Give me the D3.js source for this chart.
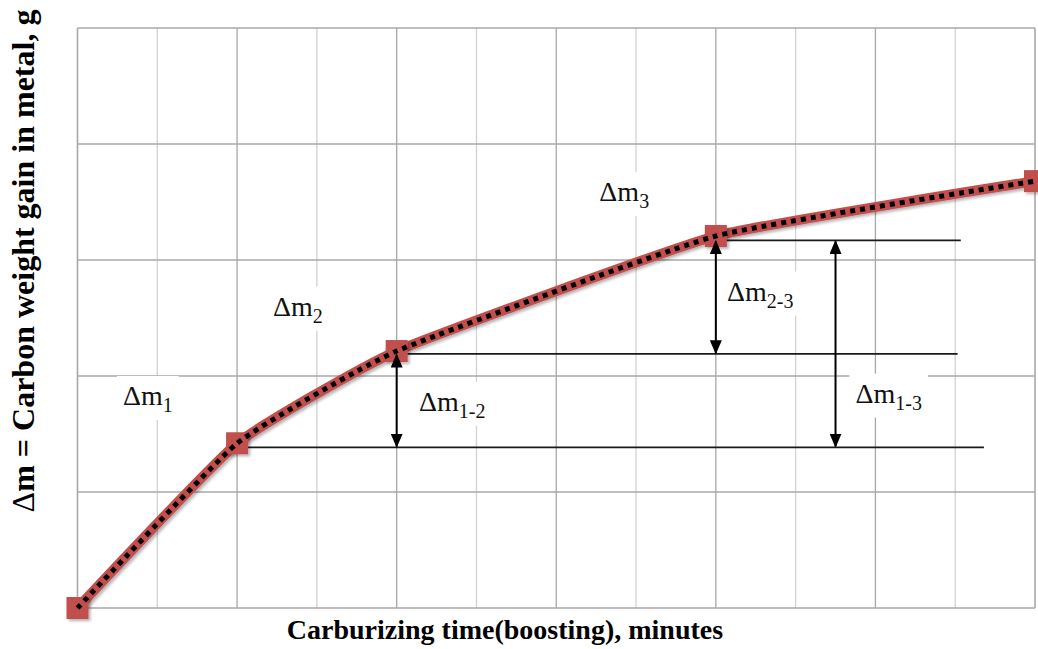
<!DOCTYPE html>
<html>
<head>
<meta charset="utf-8">
<script src="https://cdn.jsdelivr.net/npm/d3@7/dist/d3.min.js"></script>
<style>
  html, body { margin: 0; padding: 0; background: #ffffff; }
  svg { display: block; }
  .serif { font-family: "Liberation Serif", "Times New Roman", serif; }
</style>
</head>
<body>
<svg id="chart" width="1038" height="649"></svg>
<script>
// ---- Data ----
const timeValues = [0, 2, 4, 8, 12];                 // carburizing time (grid units)
const gainValues = [0, 1.42, 2.215, 3.207, 3.68];    // carbon weight gain
const xGridValues = d3.range(0, 13, 1);
const yGridValues = d3.range(0, 6, 1);
const refLevels = [
  { y: 1.385, x0: 2, x1: 11.36 },
  { y: 2.19,  x0: 4, x1: 11.03 },
  { y: 3.17,  x0: 8, x1: 11.07 }
];
const arrowDefs = [
  { x: 4,   y0: 2.19, y1: 1.385 },
  { x: 8,   y0: 3.17, y1: 2.19 },
  { x: 9.5, y0: 3.17, y1: 1.385 }
];
const labels = [
  { main: "\u0394m", sub: "1",   x: 0.57, y: 1.75 },
  { main: "\u0394m", sub: "2",   x: 2.45, y: 2.52 },
  { main: "\u0394m", sub: "3",   x: 6.54, y: 3.51 },
  { main: "\u0394m", sub: "1-2", x: 4.28, y: 1.7 },
  { main: "\u0394m", sub: "2-3", x: 8.14, y: 2.65 },
  { main: "\u0394m", sub: "1-3", x: 9.75, y: 1.77 }
];
const xTitle = "Carburizing time(boosting), minutes";
const yTitleDelta = "\u0394";
const yTitleRest = "m = Carbon weight gain in metal, g";

// ---- Layout ----
const svg = d3.select("#chart");
const pLeft = 77.5, pRight = 1035, pTop = 28, pBottom = 608;
const x = d3.scaleLinear().domain([0, 12]).range([pLeft, pRight]);
const y = d3.scaleLinear().domain([0, 5]).range([pBottom, pTop]);

const defs = svg.append("defs");
const f = defs.append("filter").attr("id", "shadow").attr("x", "-20%").attr("y", "-20%").attr("width", "140%").attr("height", "140%");
f.append("feGaussianBlur").attr("in", "SourceAlpha").attr("stdDeviation", 1.5).attr("result", "b");
f.append("feOffset").attr("in", "b").attr("dx", 1.5).attr("dy", 1.5).attr("result", "o");
f.append("feComponentTransfer").attr("in", "o").attr("result", "o2")
  .append("feFuncA").attr("type", "linear").attr("slope", 0.3);
const fm = f.append("feMerge");
fm.append("feMergeNode").attr("in", "o2");
fm.append("feMergeNode").attr("in", "SourceGraphic");

const mk = defs.append("marker").attr("id", "ah").attr("viewBox", "0 0 10 10")
  .attr("refX", 9).attr("refY", 5).attr("markerWidth", 7).attr("markerHeight", 6)
  .attr("markerUnits", "strokeWidth").attr("orient", "auto-start-reverse")
  .attr("preserveAspectRatio", "none");
mk.append("path").attr("d", "M0,0 L10,5 L0,10 Z").attr("fill", "#000");

// Grid
const grid = svg.append("g");
grid.selectAll("line.v").data(xGridValues).join("line")
  .attr("x1", d => x(d)).attr("x2", d => x(d)).attr("y1", pTop).attr("y2", pBottom)
  .attr("stroke", d => (d % 2 === 0) ? "#a8a8a8" : "#d2d2d2")
  .attr("stroke-width", d => (d === 0 || d === 12) ? 1.6 : 1.3);
grid.selectAll("line.h").data(yGridValues).join("line")
  .attr("x1", pLeft).attr("x2", pRight).attr("y1", d => y(d)).attr("y2", d => y(d))
  .attr("stroke", "#a8a8a8").attr("stroke-width", d => (d === 0 || d === 5) ? 1.6 : 1.3);

// Reference horizontal lines
svg.append("g").selectAll("line").data(refLevels).join("line")
  .attr("x1", d => x(d.x0)).attr("x2", d => x(d.x1))
  .attr("y1", d => y(d.y)).attr("y2", d => y(d.y))
  .attr("stroke", "#1a1a1a").attr("stroke-width", 1.8);

// Data series
const pts = timeValues.map((t, i) => [t, gainValues[i]]);
const line = d3.line().x(d => x(d[0])).y(d => y(d[1])).curve(d3.curveCardinal.tension(0.6));
svg.append("path").datum(pts).attr("d", line)
  .attr("fill", "none").attr("stroke", "#c0504d").attr("stroke-width", 10)
  .attr("filter", "url(#shadow)");
svg.append("g").selectAll("rect").data(pts).join("rect")
  .attr("x", d => x(d[0]) - 11).attr("y", d => y(d[1]) - 11)
  .attr("width", 22).attr("height", 22).attr("fill", "#c0504d")
  .attr("filter", "url(#shadow)");
svg.append("path").datum(pts).attr("d", line)
  .attr("fill", "none").attr("stroke", "#000").attr("stroke-width", 5)
  .attr("stroke-dasharray", "5,5");

// Arrows
svg.append("g").selectAll("line").data(arrowDefs).join("line")
  .attr("x1", d => x(d.x)).attr("x2", d => x(d.x))
  .attr("y1", d => y(d.y0) + 1).attr("y2", d => y(d.y1) - 1)
  .attr("stroke", "#000").attr("stroke-width", 2)
  .attr("marker-start", "url(#ah)").attr("marker-end", "url(#ah)");

// Labels
const lg = svg.append("g");
labels.forEach(l => {
  const g = lg.append("g");
  const t = g.append("text").attr("class", "serif").attr("x", x(l.x)).attr("y", y(l.y))
    .attr("font-size", 28).attr("fill", "#111");
  t.append("tspan").text(l.main);
  t.append("tspan").attr("font-size", 20).attr("dy", 7).text(l.sub);
  const bb = t.node().getBBox();
  g.insert("rect", "text").attr("x", bb.x - 6).attr("y", bb.y - 4)
    .attr("width", bb.width + 12).attr("height", bb.height + 8).attr("fill", "#fff");
});

// Axis titles
svg.append("text").attr("class", "serif").attr("x", 505).attr("y", 639).attr("text-anchor", "middle")
  .attr("font-weight", "bold").attr("font-size", 28).attr("fill", "#000")
  .text(xTitle);
const yt = svg.append("text").attr("class", "serif").attr("transform", "translate(34,261) rotate(-90)")
  .attr("text-anchor", "middle")
  .attr("font-weight", "bold").attr("font-size", 32).attr("fill", "#000");
yt.append("tspan").attr("font-weight", "normal").text(yTitleDelta);
yt.append("tspan").text(yTitleRest);
</script>
</body>
</html>
